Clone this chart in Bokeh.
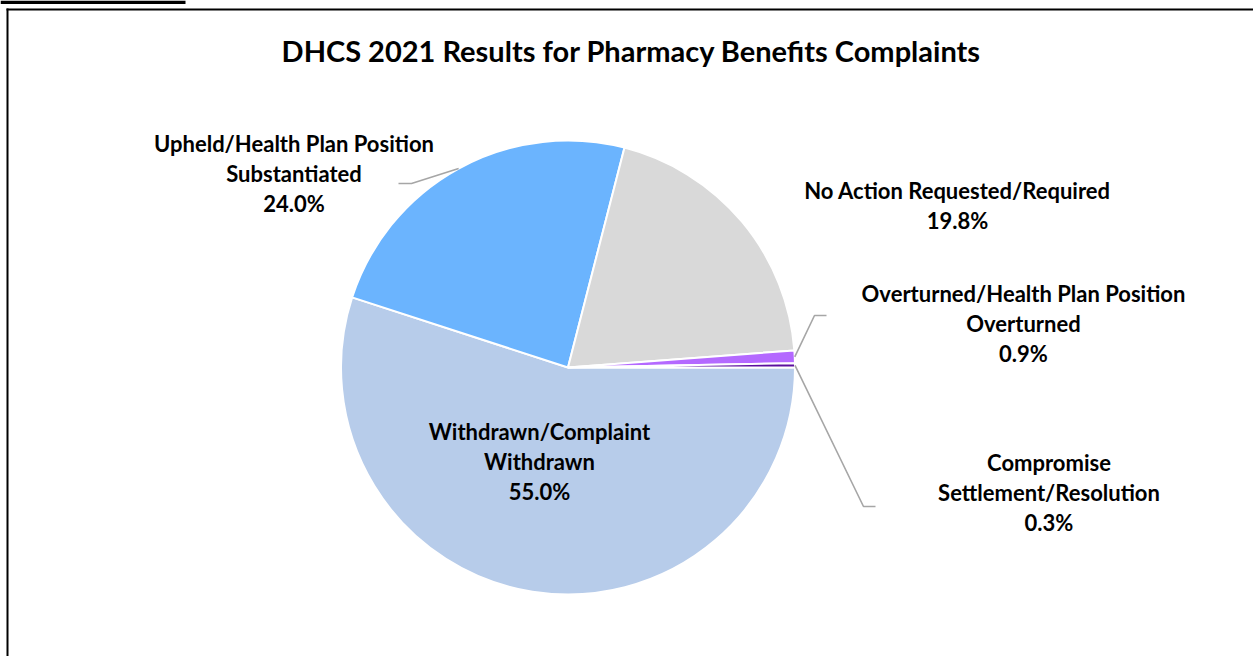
import math
from bokeh.plotting import figure
from bokeh.models import Range1d, ColumnDataSource, BoxAnnotation
from bokeh.core.properties import value
from bokeh.embed import file_html
from bokeh.resources import INLINE

# ---- data ----
categories = ["Withdrawn/Complaint\nWithdrawn",
              "Upheld/Health Plan Position\nSubstantiated",
              "No Action Requested/Required",
              "Overturned/Health Plan Position\nOverturned",
              "Compromise\nSettlement/Resolution"]
shares = [55.0, 24.0, 19.8, 0.9, 0.3]
colors = ["#B7CCEA", "#6BB4FE", "#D9D9D9", "#B469FF", "#5B0F9E"]
title_text = "DHCS 2021 Results for Pharmacy Benefits Complaints"

# ---- layout (screen pixels, origin top-left) ----
W, H = 1253, 656
CX, CY, R = 567.5, 367.0, 227.0
label_pos = [(539, 461), (293.5, 173), (957, 205), (1023, 323), (1048.5, 492)]
elbows = {1: [(411, 183), (398, 183)],
          3: [(814, 315), (826, 315)],
          4: [(863, 506), (875, 506)]}

def Y(y):
    return H - y

p = figure(width=W, height=H, x_range=Range1d(0, W), y_range=Range1d(0, H),
           x_axis_type=None, y_axis_type=None, toolbar_location=None,
           output_backend="svg", min_border=0, outline_line_color=None)
p.xgrid.visible = False
p.ygrid.visible = False
p.background_fill_color = "white"
p.border_fill_color = "white"

# wedges: clockwise from 3 o'clock
total = sum(shares)
starts, ends, mids = [], [], []
cum = 0.0
for s in shares:
    a0 = cum / total * 2 * math.pi
    cum += s
    a1 = cum / total * 2 * math.pi
    starts.append(-a1)
    ends.append(-a0)
    mids.append(-(a0 + a1) / 2)

src = ColumnDataSource(dict(x=[CX] * len(shares), y=[Y(CY)] * len(shares),
                            start=starts, end=ends, color=colors))
p.wedge(x="x", y="y", radius=R, start_angle="start", end_angle="end",
        fill_color="color", line_color="white", line_width=2, source=src)

# leader lines
xs, ys = [], []
for i, pts in elbows.items():
    sx = CX + R * math.cos(mids[i])
    sy = Y(CY) + R * math.sin(mids[i])
    xs.append([sx] + [q[0] for q in pts])
    ys.append([sy] + [Y(q[1]) for q in pts])
p.multi_line(xs=xs, ys=ys, line_color="#A6A6A6", line_width=1.6)

# labels
texts = [f"{c}\n{s:.1f}%" for c, s in zip(categories, shares)]
lsrc = ColumnDataSource(dict(x=[q[0] for q in label_pos], y=[Y(q[1]) for q in label_pos], t=texts))
p.text(x="x", y="y", text="t", source=lsrc, text_font=value("Lato"),
       text_font_style="bold", text_font_size="22px", text_align="center",
       text_baseline="middle", text_line_height=1.1, text_color="#000000")

# title
p.text(x=[631], y=[Y(50)], text=[title_text], text_font=value("Lato"),
       text_font_style="bold", text_font_size="29px", text_align="center",
       text_baseline="middle", text_color="#000000")

# frame decorations
p.add_layout(BoxAnnotation(left=0, right=185, top=H, bottom=H - 3.5,
                           fill_color="black", fill_alpha=1, line_alpha=0))
p.add_layout(BoxAnnotation(left=6, right=W, top=H - 8, bottom=H - 10,
                           fill_color="black", fill_alpha=1, line_alpha=0))
p.add_layout(BoxAnnotation(left=6, right=8, top=H - 8, bottom=0,
                           fill_color="black", fill_alpha=1, line_alpha=0))

open("out.html", "w").write(file_html(p, INLINE))
